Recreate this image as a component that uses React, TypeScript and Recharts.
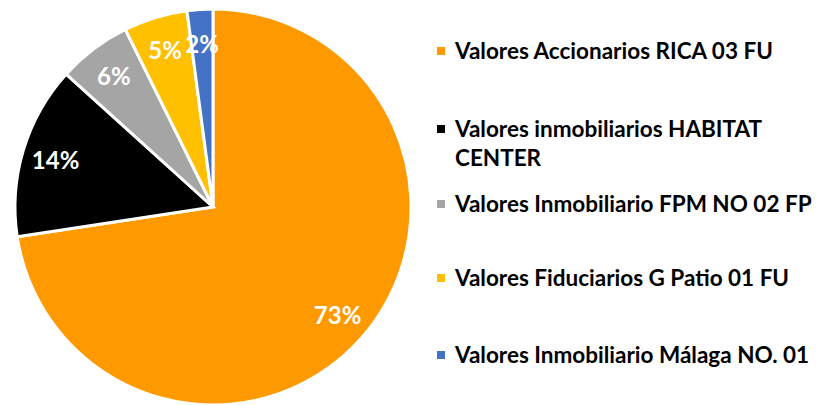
import { PieChart, Pie, Cell, Legend } from "recharts";

const names = [
  "Valores Accionarios RICA 03 FU",
  "Valores inmobiliarios HABITAT CENTER",
  "Valores Inmobiliario FPM NO 02 FP",
  "Valores Fiduciarios G Patio 01 FU",
  "Valores Inmobiliario Málaga NO. 01",
];
const shares = [72.6, 14.1, 6.0, 5.2, 2.1];
const colors = ["#FF9900", "#000000", "#A5A5A5", "#FFC000", "#4472C4"];

const data = names.map((name, i) => ({ name, value: shares[i] }));

// legend rows are not evenly spaced in the original
const legendTops = [36, 114, 189, 263, 340];

const RADIAN = Math.PI / 180;

function renderLabel(props: any) {
  const { cx, cy, midAngle, outerRadius, percent } = props;
  const r = outerRadius * 0.83;
  const x = cx + r * Math.cos(-midAngle * RADIAN);
  const y = cy + r * Math.sin(-midAngle * RADIAN);
  return (
    <text
      x={x}
      y={y}
      fill="#fff"
      textAnchor="middle"
      dominantBaseline="central"
      style={{ fontFamily: "Lato", fontWeight: 700, fontSize: 24 }}
    >
      {`${Math.round(percent * 100)}%`}
    </text>
  );
}

function renderLegend() {
  return (
    <div style={{ position: "relative", width: 382, height: 405 }}>
      {names.map((name, i) => (
        <div
          key={name}
          style={{
            position: "absolute",
            top: legendTops[i],
            left: 0,
            display: "flex",
            alignItems: "flex-start",
            fontFamily: "Lato",
            fontWeight: 700,
            fontSize: 22.5,
            lineHeight: "29px",
            color: "#000",
          }}
        >
          <span
            style={{
              width: 8,
              height: 8,
              background: colors[i],
              marginTop: 11,
              marginRight: 10,
              flexShrink: 0,
            }}
          />
          <span style={{ width: 364 }}>{name}</span>
        </div>
      ))}
    </div>
  );
}

export default function App() {
  return (
    <div style={{ position: "absolute", left: 0, top: 0, background: "#fff" }}>
      <PieChart width={819} height={405} margin={{ top: 0, right: 0, bottom: 0, left: 0 }}>
        <Pie
          data={data}
          dataKey="value"
          nameKey="name"
          cx={213}
          cy={207}
          outerRadius={198}
          startAngle={90}
          endAngle={-270}
          stroke="#fff"
          strokeWidth={3}
          label={renderLabel}
          labelLine={false}
          isAnimationActive={false}
        >
          {data.map((d, i) => (
            <Cell key={d.name} fill={colors[i]} />
          ))}
        </Pie>
        <Legend
          content={renderLegend}
          wrapperStyle={{ left: 437, top: 0, width: 382, height: 405 }}
        />
      </PieChart>
    </div>
  );
}
